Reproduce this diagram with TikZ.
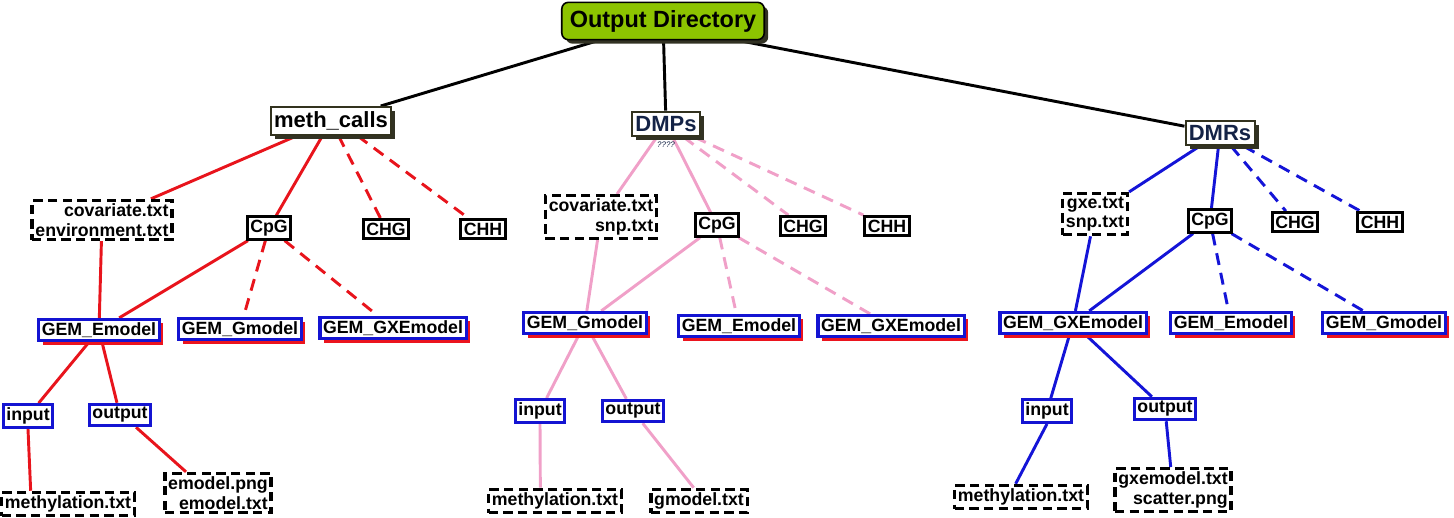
\documentclass[tikz,border=0pt]{standalone}
\usepackage{fontspec}
\setmainfont{Liberation Sans}
\usetikzlibrary{shadows}
\definecolor{rootgreen}{RGB}{141,196,0}
\definecolor{shadowdark}{RGB}{50,50,35}
\definecolor{oliveline}{RGB}{50,50,30}
\definecolor{navytext}{RGB}{20,35,70}
\definecolor{gemblue}{RGB}{20,20,210}
\definecolor{edgered}{RGB}{232,20,28}
\definecolor{edgepink}{RGB}{240,160,200}
\definecolor{edgeblue}{RGB}{20,20,215}
\definecolor{shadowred}{RGB}{235,20,30}
\pgfdeclarelayer{background}
\pgfsetlayers{background,main}
\tikzset{
  rootbox/.style={draw=black, line width=1.2pt, fill=rootgreen, rounded corners=5pt,
    font=\fontsize{17.6}{20}\selectfont\bfseries, inner xsep=6pt, minimum height=28pt,
    drop shadow={shadow xshift=3pt,shadow yshift=-3pt,fill=shadowdark,opacity=1}},
  lvlone/.style={draw=oliveline, line width=1.5pt, fill=white,
    font=\fontsize{16.5}{19}\selectfont\bfseries, inner xsep=2.5pt, inner ysep=3.5pt,
    drop shadow={shadow xshift=3pt,shadow yshift=-3pt,fill=shadowdark,opacity=1}},
  ctxbox/.style={draw=black, line width=2.3pt, fill=white,
    font=\fontsize{13.3}{14.5}\selectfont\bfseries, inner sep=2.3pt},
  gembox/.style={draw=gemblue, line width=2.3pt, fill=white,
    font=\fontsize{13.3}{14.5}\selectfont\bfseries, inner sep=2.3pt,
    drop shadow={shadow xshift=3pt,shadow yshift=-3pt,fill=shadowred,opacity=1}},
  iobox/.style={draw=gemblue, line width=2.3pt, fill=white,
    font=\fontsize{13.3}{14.5}\selectfont\bfseries, inner sep=2.3pt},
  filebox/.style={draw=black, line width=2.5pt, dash pattern=on 7pt off 4pt, fill=white,
    align=right, font=\fontsize{13.3}{14.5}\selectfont\bfseries, inner sep=2.5pt},
  blk/.style={draw=black, line width=2.2pt},
  redl/.style={draw=edgered, line width=2.2pt},
  redd/.style={redl, dash pattern=on 9pt off 6pt},
  pinkl/.style={draw=edgepink, line width=2.2pt},
  pinkd/.style={pinkl, dash pattern=on 9pt off 6pt},
  bluel/.style={draw=edgeblue, line width=2.2pt},
  blued/.style={bluel, dash pattern=on 9pt off 6pt},
}
\begin{document}
\begin{tikzpicture}[x=0.75pt,y=-0.75pt]
\useasboundingbox (0,0) rectangle (1454,518);
% root
\node[rootbox] (root) at (663,21) {Output Directory};
% level 1
\node[lvlone] (meth) at (331,121) {meth\_calls};
\node[lvlone, text=navytext] (dmps) at (666,124) {DMPs};
\node[lvlone, text=navytext] (dmrs) at (1220,133) {DMRs};
\node[text=navytext, font=\fontsize{6}{6}\selectfont\itshape, inner sep=0pt] (qq) at (666,145) {????};
% meth_calls subtree
\node[filebox] (mcov) at (102,220) {covariate.txt\\environment.txt};
\node[ctxbox] (mcpg) at (269,228) {CpG};
\node[ctxbox] (mchg) at (386,229) {CHG};
\node[ctxbox] (mchh) at (483,229) {CHH};
\node[gembox] (memod) at (99,330) {GEM\_Emodel};
\node[gembox] (mgmod) at (240,329) {GEM\_Gmodel};
\node[gembox] (mgxe) at (393,328) {GEM\_GXEmodel};
\node[iobox] (min) at (28,416) {input};
\node[iobox] (mout) at (120,415) {output};
\node[filebox] (mmeth) at (68,504) {methylation.txt};
\node[filebox] (memf) at (218,493) {emodel.png\\emodel.txt};
% DMPs subtree
\node[filebox] (pcov) at (601,217) {covariate.txt\\snp.txt};
\node[ctxbox] (pcpg) at (717,225) {CpG};
\node[ctxbox] (pchg) at (803,226) {CHG};
\node[ctxbox] (pchh) at (887,226) {CHH};
\node[gembox] (pgmod) at (585,323) {GEM\_Gmodel};
\node[gembox] (pemod) at (739,326) {GEM\_Emodel};
\node[gembox] (pgxe) at (891,326) {GEM\_GXEmodel};
\node[iobox] (pin) at (540,411) {input};
\node[iobox] (pout) at (633,411) {output};
\node[filebox] (pmeth) at (555,501) {methylation.txt};
\node[filebox] (pgf) at (699,501) {gmodel.txt};
% DMRs subtree
\node[filebox] (rcov) at (1095,214) {gxe.txt\\snp.txt};
\node[ctxbox] (rcpg) at (1210,221) {CpG};
\node[ctxbox] (rchg) at (1295,222) {CHG};
\node[ctxbox] (rchh) at (1380,222) {CHH};
\node[gembox] (rgxe) at (1073,323) {GEM\_GXEmodel};
\node[gembox] (remod) at (1231,323) {GEM\_Emodel};
\node[gembox] (rgmod) at (1384,323) {GEM\_Gmodel};
\node[iobox] (rin) at (1047,411) {input};
\node[iobox] (rout) at (1165,409) {output};
\node[filebox] (rmeth) at (1021,497) {methylation.txt};
\node[filebox] (rgf) at (1173,490) {gxemodel.txt\\scatter.png};
\begin{pgfonlayer}{background}
% root edges
\draw[blk] (root) -- (meth);
\draw[blk] (root) -- (dmps);
\draw[blk] ([xshift=-20pt]root.south east) -- (dmrs);
% meth_calls edges
\draw[redl] (meth) -- (mcov);
\draw[redl] (meth) -- (mcpg);
\draw[redd] (meth) -- (mchg);
\draw[redd] ([xshift=20pt]meth.south) -- (mchh);
\draw[redl] (mcov) -- (memod);
\draw[redl] (mcpg) -- (memod);
\draw[redd] (mcpg) -- (mgmod);
\draw[redd] (mcpg) -- (mgxe);
\draw[redl] (memod) -- (min);
\draw[redl] (memod) -- (mout);
\draw[redl] (min.south) -- ([xshift=-28pt]mmeth.north);
\draw[redl] ([xshift=12pt]mout.south) -- ([xshift=-24pt]memf.north);
% DMPs edges
\draw[pinkl] (dmps) -- (pcov);
\draw[pinkl] (dmps) -- (pcpg);
\draw[pinkd] (dmps) -- (pchg);
\draw[pinkd] (dmps) -- (pchh);
\draw[pinkl] (pcov) -- (pgmod);
\draw[pinkl] (pcpg) -- (pgmod);
\draw[pinkd] (pcpg) -- (pemod);
\draw[pinkd] (pcpg) -- (pgxe);
\draw[pinkl] (pgmod) -- (pin);
\draw[pinkl] (pgmod) -- (pout);
\draw[pinkl] (pin.south) -- ([xshift=-11pt]pmeth.north);
\draw[pinkl] (pout) -- ([xshift=-4pt]pgf.north);
% DMRs edges
\draw[bluel] (dmrs) -- (rcov);
\draw[bluel] (dmrs) -- (rcpg);
\draw[blued] (dmrs) -- (rchg);
\draw[blued] (dmrs) -- (rchh);
\draw[bluel] (rcov) -- (rgxe);
\draw[bluel] (rcpg) -- (rgxe);
\draw[blued] (rcpg) -- (remod);
\draw[blued] (rcpg) -- (rgmod);
\draw[bluel] (rgxe) -- (rin);
\draw[bluel] (rgxe) -- (rout);
\draw[bluel] (rin.south) -- ([xshift=-4pt]rmeth.north);
\draw[bluel] (rout) -- (rgf);
\end{pgfonlayer}
\end{tikzpicture}
\end{document}
